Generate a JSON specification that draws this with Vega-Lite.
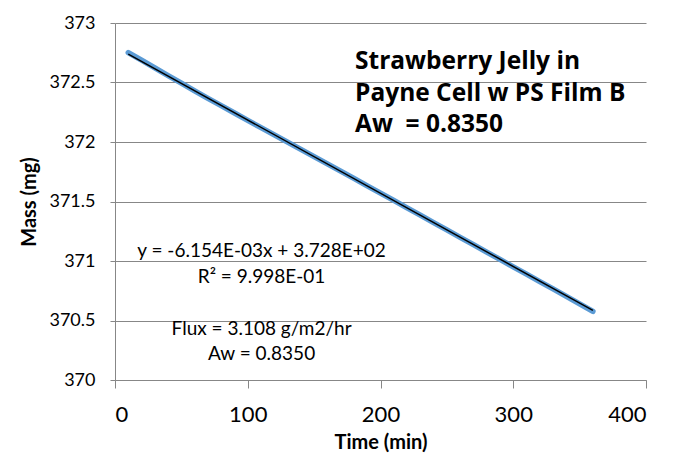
{
  "$schema": "https://vega.github.io/schema/vega-lite/v6.json",
  "autosize": "none",
  "width": 531,
  "height": 357,
  "padding": {"left": 115, "top": 23, "right": 30, "bottom": 80},
  "background": "white",
  "config": {
    "view": {"stroke": null},
    "font": "Lato",
    "axis": {
      "labelFont": "Lato",
      "titleFont": "Lato",
      "labelColor": "black",
      "titleColor": "black",
      "domainColor": "#878787",
      "tickColor": "#878787",
      "gridColor": "#878787",
      "domainWidth": 1,
      "tickWidth": 1,
      "gridWidth": 1
    }
  },
  "datasets": {
    "obs": [
      {"time": 10, "mass": 372.752},
      {"time": 20, "mass": 372.688},
      {"time": 30, "mass": 372.622},
      {"time": 40, "mass": 372.558},
      {"time": 50, "mass": 372.494},
      {"time": 60, "mass": 372.43},
      {"time": 70, "mass": 372.367},
      {"time": 80, "mass": 372.305},
      {"time": 90, "mass": 372.244},
      {"time": 100, "mass": 372.182},
      {"time": 110, "mass": 372.121},
      {"time": 120, "mass": 372.06},
      {"time": 130, "mass": 371.999},
      {"time": 140, "mass": 371.938},
      {"time": 150, "mass": 371.877},
      {"time": 160, "mass": 371.816},
      {"time": 170, "mass": 371.755},
      {"time": 180, "mass": 371.694},
      {"time": 190, "mass": 371.632},
      {"time": 200, "mass": 371.57},
      {"time": 210, "mass": 371.509},
      {"time": 220, "mass": 371.447},
      {"time": 230, "mass": 371.385},
      {"time": 240, "mass": 371.323},
      {"time": 250, "mass": 371.261},
      {"time": 260, "mass": 371.199},
      {"time": 270, "mass": 371.137},
      {"time": 280, "mass": 371.075},
      {"time": 290, "mass": 371.013},
      {"time": 300, "mass": 370.951},
      {"time": 310, "mass": 370.889},
      {"time": 320, "mass": 370.827},
      {"time": 330, "mass": 370.765},
      {"time": 340, "mass": 370.703},
      {"time": 350, "mass": 370.64},
      {"time": 360, "mass": 370.577}
    ],
    "trend": [
      {"time": 10, "mass": 372.738},
      {"time": 360, "mass": 370.585}
    ],
    "one": [{"k": 1}]
  },
  "layer": [
    {
      "data": {"name": "obs"},
      "mark": {"type": "line", "color": "#5B9BD5", "strokeWidth": 5.5, "strokeCap": "round"},
      "encoding": {
        "x": {
          "field": "time", "type": "quantitative",
          "scale": {"domain": [0, 400], "nice": false},
          "axis": {
            "values": [0, 100, 200, 300, 400],
            "grid": false,
            "labelFontSize": 22,
            "tickSize": 8,
            "labelPadding": 16,
            "title": "Time (min)",
            "titleFontSize": 20,
            "titleFontWeight": "bold",
            "titlePadding": 7
          }
        },
        "y": {
          "field": "mass", "type": "quantitative",
          "scale": {"domain": [370, 373], "nice": false, "zero": false},
          "axis": {
            "values": [370, 370.5, 371, 371.5, 372, 372.5, 373],
            "format": ".1~f",
            "grid": true,
            "labelFontSize": 18,
            "tickSize": 5,
            "labelPadding": 15,
            "title": "Mass (mg)",
            "titleFontSize": 20,
            "titleFontWeight": "bold",
            "titlePadding": 9
          }
        }
      }
    },
    {
      "data": {"name": "trend"},
      "mark": {"type": "line", "color": "black", "strokeWidth": 1.5},
      "encoding": {
        "x": {"field": "time", "type": "quantitative"},
        "y": {"field": "mass", "type": "quantitative"}
      }
    },
    {
      "data": {"name": "one"},
      "mark": {"type": "text", "align": "center", "baseline": "alphabetic", "fontSize": 19, "font": "Lato", "color": "black", "lineHeight": 26.3},
      "encoding": {
        "x": {"datum": 110.4, "type": "quantitative"},
        "y": {"datum": 371.034, "type": "quantitative"},
        "text": {"value": ["y = -6.154E-03x + 3.728E+02", "R² = 9.998E-01"]}
      }
    },
    {
      "data": {"name": "one"},
      "mark": {"type": "text", "align": "center", "baseline": "alphabetic", "fontSize": 19, "font": "Lato", "color": "black", "lineHeight": 25},
      "encoding": {
        "x": {"datum": 110.4, "type": "quantitative"},
        "y": {"datum": 370.378, "type": "quantitative"},
        "text": {"value": ["Flux = 3.108 g/m2/hr", "Aw = 0.8350"]}
      }
    },
    {
      "data": {"name": "one"},
      "mark": {"type": "text", "align": "left", "baseline": "alphabetic", "fontSize": 24.5, "fontWeight": "bold", "font": "Open Sans", "color": "black", "lineHeight": 31.3},
      "encoding": {
        "x": {"datum": 180.8, "type": "quantitative"},
        "y": {"datum": 372.611, "type": "quantitative"},
        "text": {"value": ["Strawberry Jelly in", "Payne Cell w PS Film B", "Aw \u00a0= 0.8350"]}
      }
    }
  ]
}
